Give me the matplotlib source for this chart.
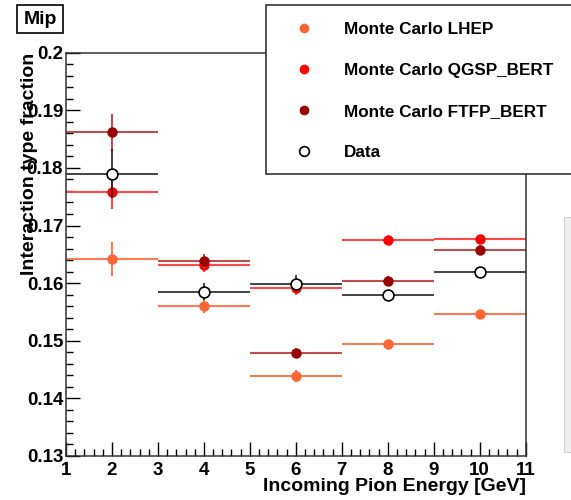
import matplotlib.pyplot as plt
from matplotlib.lines import Line2D
from matplotlib.patches import Rectangle

plt.rcParams['font.family'] = ['Liberation Sans', 'DejaVu Sans']
plt.rcParams['font.weight'] = 'bold'

energy = [2, 4, 6, 8, 10]
bin_half = [1, 1, 1, 1, 1]

lhep = [0.1642, 0.1560, 0.1439, 0.1494, 0.1546]
lhep_err = [0.0030, 0.0012, 0.0010, 0.0005, 0.0005]

qgsp = [0.1758, 0.1631, 0.1592, 0.1675, 0.1677]
qgsp_err = [0.0030, 0.0012, 0.0012, 0.0006, 0.0007]

ftfp = [0.1862, 0.1639, 0.1479, 0.1604, 0.1658]
ftfp_err = [0.0032, 0.0012, 0.0008, 0.0008, 0.0008]

data = [0.1790, 0.1585, 0.1599, 0.1579, 0.1619]
data_err = [0.0042, 0.0015, 0.0015, 0.0005, 0.0005]

ytick_vals = [0.13, 0.14, 0.15, 0.16, 0.17, 0.18, 0.19, 0.2]
ytick_labels = ['0.13', '0.14', '0.15', '0.16', '0.17', '0.18', '0.19', '0.2']
xtick_vals = [1, 2, 3, 4, 5, 6, 7, 8, 9, 10, 11]

fig = plt.figure(figsize=(5.71, 5.0), dpi=100)
ax = fig.add_axes([66 / 571, 1 - 456 / 500, 459.7 / 571, 403.3 / 500])

series = [
    ("Monte Carlo LHEP", lhep, lhep_err, '#ff6633', '#ff7a55'),
    ("Monte Carlo QGSP_BERT", qgsp, qgsp_err, '#ff0000', '#ff4a4a'),
    ("Monte Carlo FTFP_BERT", ftfp, ftfp_err, '#990000', '#b85050'),
]

handles = []
for label, vals, errs, mcol, lcol in series:
    ax.errorbar(energy, vals, xerr=bin_half, yerr=errs, fmt='none',
                ecolor=lcol, elinewidth=1.5, capsize=0)
    ax.plot(energy, vals, 'o', color=mcol, markersize=7.5, markeredgewidth=0)
    handles.append(Line2D([], [], marker='o', linestyle='none', color=mcol,
                          markersize=7, markeredgewidth=0, label=label))

ax.errorbar(energy, data, xerr=bin_half, yerr=data_err, fmt='none',
            ecolor='#222222', elinewidth=1.2, capsize=0)
ax.plot(energy, data, 'o', markerfacecolor='white', markeredgecolor='black',
        markersize=7.8, markeredgewidth=1.2)
handles.append(Line2D([], [], marker='o', linestyle='none', markerfacecolor='white',
                      markeredgecolor='black', markersize=7, markeredgewidth=1.2,
                      label="Data"))

ax.set_xlim(1, 11)
ax.set_ylim(0.13, 0.2)
ax.set_xticks(xtick_vals)
ax.set_xticklabels([str(v) for v in xtick_vals])
ax.set_xticks([1 + 0.2 * i for i in range(51)], minor=True)
ax.set_yticks(ytick_vals)
ax.set_yticklabels(ytick_labels)
ax.set_yticks([0.13 + 0.002 * i for i in range(36)], minor=True)

ax.tick_params(which='major', direction='in', length=10, width=1, labelsize=13.5)
ax.tick_params(which='minor', direction='in', length=5, width=1)
ax.tick_params(axis='x', which='both', pad=4, top=False)
ax.tick_params(axis='y', which='both', pad=2, right=False)
for s in ax.spines.values():
    s.set_linewidth(1.1)
    s.set_color('#333333')

ax.set_xlabel("Incoming Pion Energy [GeV]", fontsize=14, fontweight='bold', loc='right')
ax.xaxis.set_label_coords(1.0, -0.055)
# the title sits over the tick labels, as in the original ROOT canvas
ax.set_ylabel("Interaction type fraction", fontsize=14, fontweight='bold', loc='top')
ax.yaxis.set_label_coords(-0.06, 1.0)

# legend box
fig.patches.append(Rectangle((266 / 571, 1 - 173.5 / 500), 310 / 571, 168.5 / 500,
                             transform=fig.transFigure, facecolor='white',
                             edgecolor='#333333', linewidth=1.2, zorder=5))
leg = fig.legend(handles=handles, loc='upper left', bbox_to_anchor=(289 / 571, 1 - 15 / 500),
                 frameon=False, fontsize=12.3, labelspacing=1.52, handletextpad=1.8,
                 handlelength=1.0, borderaxespad=0)
leg.set_zorder(6)

# partially visible grey pad at right
fig.patches.append(Rectangle((564 / 571, 1 - 452 / 500), 10 / 571, 235 / 500,
                             transform=fig.transFigure, facecolor='#eeeeee',
                             edgecolor='#d0d0d0', linewidth=0.8))

fig.text(40 / 571, 1 - 19 / 500, "Mip", fontsize=14, fontweight='bold', ha='center', va='center',
         bbox=dict(boxstyle='square,pad=0.3', facecolor='white', edgecolor='black', linewidth=1.2))

fig.savefig('out.png', dpi=100)
